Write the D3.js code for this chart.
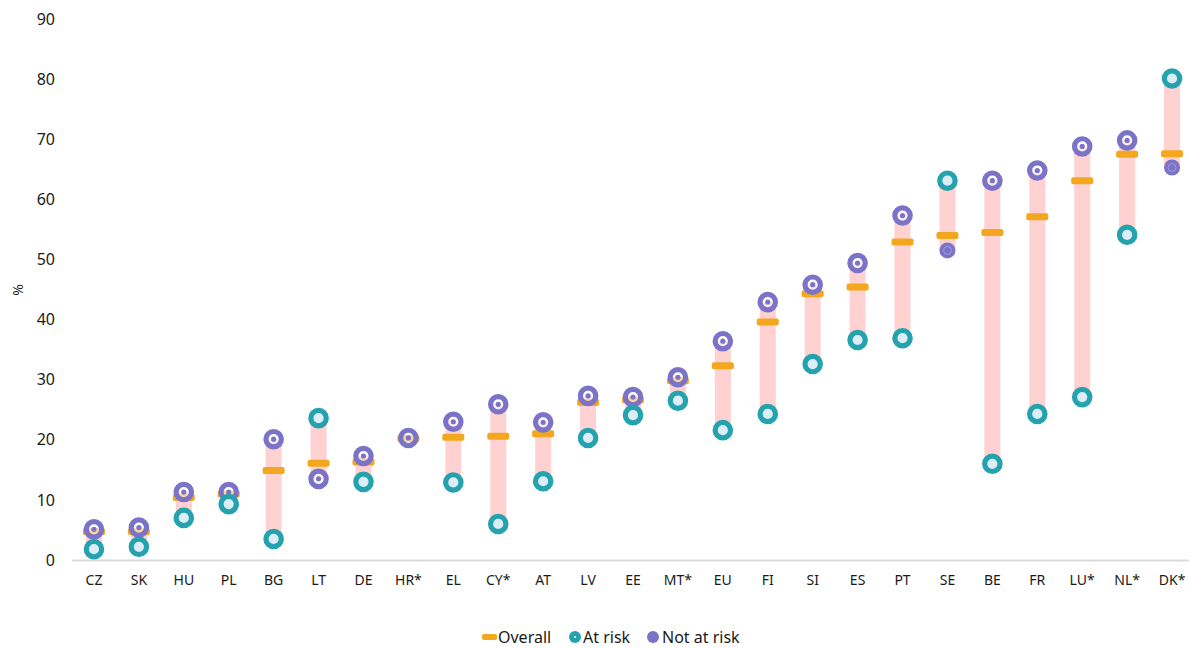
<!DOCTYPE html>
<html><head><meta charset="utf-8">
<script src="https://cdn.jsdelivr.net/npm/d3@7"></script>
<style>
body{margin:0;background:#fff;}
text{font-family:"Noto Sans","Open Sans",sans-serif;fill:#1a1a1a;}
</style></head>
<body><svg id="c" width="1189" height="648"></svg>
<script>
const categories = ["CZ","SK","HU","PL","BG","LT","DE","HR*","EL","CY*","AT","LV","EE","MT*","EU","FI","SI","ES","PT","SE","BE","FR","LU*","NL*","DK*"];
const overall   = [4.7,4.7,10.4,11.0,14.9,16.1,16.3,20.2,20.4,20.6,21.0,26.2,26.6,29.8,32.3,39.6,44.3,45.4,52.9,54.0,54.5,57.1,63.1,67.5,67.6];
const atRisk    = [1.8,2.2,7.0,9.3,3.5,23.6,13.0,null,12.9,6.0,13.1,20.3,24.1,26.5,21.6,24.3,32.6,36.6,36.9,63.1,16.0,24.3,27.1,54.1,80.1];
const notAtRisk = [5.1,5.4,11.3,11.3,20.1,13.5,17.3,20.3,23.0,25.9,22.9,27.3,27.1,30.4,36.4,42.9,45.8,49.4,57.3,51.5,63.1,64.8,68.8,69.8,65.3];
const notAtRiskLowReliability = ["SE","DK*"];
const yTicks = [0,10,20,30,40,50,60,70,80,90];

const C = {teal:"#24a2ad", purple:"#7b73c8", orange:"#f2a71e", pink:"#ffd1d1", tealIn:"#dcedf8"};
const svg = d3.select("#c");
const x = d3.scaleBand().domain(categories).range([71.5,1194.5]);
const y = d3.scaleLinear().domain([0,90]).range([560,19]);
const cx = d => x(d) + x.bandwidth()/2;

const ya = svg.append("g").attr("transform","translate(55,0)")
  .call(d3.axisLeft(y).tickValues(yTicks).tickSize(0).tickPadding(0));
ya.select(".domain").remove();
ya.selectAll("text").style("font-size","16px").style("font-family",'"Noto Sans",sans-serif').attr("fill","#1a1a1a");

svg.append("text").attr("transform","translate(23,290) rotate(-90)").attr("text-anchor","middle")
  .style("font-size","14px").text("%");

const xa = svg.append("g").attr("transform","translate(0,560)")
  .call(d3.axisBottom(x).tickSize(0).tickPadding(15));
xa.select(".domain").attr("stroke","#d9d9d9").attr("stroke-width",2);
xa.selectAll("text").style("font-size","14px").style("font-family",'"Noto Sans",sans-serif').attr("fill","#1a1a1a");

const data = categories.map((c,i)=>({c, o:overall[i], a:atRisk[i], n:notAtRisk[i]}));

svg.append("g").selectAll("rect").data(data.filter(d=>d.a!=null && d.n!=null)).join("rect")
  .attr("x",d=>cx(d.c)-8).attr("width",16)
  .attr("y",d=>y(Math.max(d.a,d.n))).attr("height",d=>y(Math.min(d.a,d.n))-y(Math.max(d.a,d.n)))
  .attr("fill",C.pink);

svg.append("g").selectAll("rect").data(data).join("rect")
  .attr("x",d=>cx(d.c)-11).attr("width",22)
  .attr("y",d=>y(d.o)-3.5).attr("height",7).attr("rx",2)
  .attr("fill",C.orange);

const nr = svg.append("g").selectAll("g").data(data.filter(d=>d.n!=null)).join("g")
  .attr("transform",d=>`translate(${cx(d.c)},${y(d.n)})`);
nr.each(function(d){
  const g = d3.select(this);
  if(notAtRiskLowReliability.includes(d.c)){
    g.append("circle").attr("r",8).attr("fill",C.purple);
    g.append("circle").attr("r",4).attr("fill","none").attr("stroke","#a9a3e0").attr("stroke-width",0.8);
  } else {
    g.append("circle").attr("r",7.7).attr("fill","rgba(255,255,255,0.55)").attr("stroke",C.purple).attr("stroke-width",5.2);
    g.append("circle").attr("r",2.6).attr("fill",C.purple);
  }
});

svg.append("g").selectAll("circle").data(data.filter(d=>d.a!=null)).join("circle")
  .attr("cx",d=>cx(d.c)).attr("cy",d=>y(d.a)).attr("r",7.7)
  .attr("fill",C.tealIn).attr("stroke",C.teal).attr("stroke-width",5.2);

const lg = svg.append("g").attr("transform","translate(0,637)");
lg.append("rect").attr("x",482).attr("y",-3).attr("width",15).attr("height",6).attr("rx",2).attr("fill",C.orange);
lg.append("text").attr("x",498).attr("y",6).style("font-size","16px").text("Overall");
lg.append("circle").attr("cx",575).attr("cy",0).attr("r",6).attr("fill",C.teal);
lg.append("circle").attr("cx",575).attr("cy",0).attr("r",1).attr("fill","#fff");
lg.append("text").attr("x",583).attr("y",6).style("font-size","16px").text("At risk");
lg.append("circle").attr("cx",653).attr("cy",0).attr("r",6).attr("fill",C.purple);
lg.append("text").attr("x",662).attr("y",6).style("font-size","16px").text("Not at risk");
</script></body></html>
